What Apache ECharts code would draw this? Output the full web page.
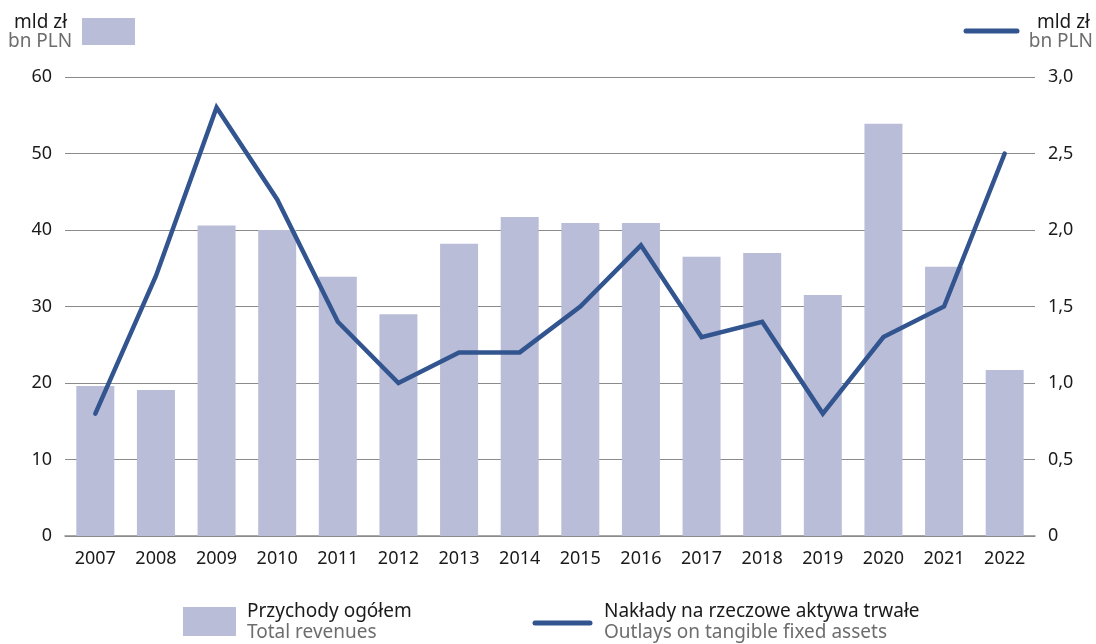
<!DOCTYPE html>
<html>
<head>
<meta charset="utf-8">
<script src="https://cdn.jsdelivr.net/npm/echarts@6/dist/echarts.min.js"></script>
<style>
  html, body { margin: 0; padding: 0; background: #fff; }
  #chart { width: 1096px; height: 644px; }
</style>
</head>
<body>
<div id="chart"></div>
<script>
// Years on the category axis
const years = ['2007','2008','2009','2010','2011','2012','2013','2014','2015','2016','2017','2018','2019','2020','2021','2022'];
// Total revenues, bn PLN (left axis)
const revenues = [19.6, 19.1, 40.6, 40.0, 33.9, 29.0, 38.2, 41.7, 40.9, 40.9, 36.5, 37.0, 31.5, 53.9, 35.2, 21.7];
// Outlays on tangible fixed assets, bn PLN (right axis)
const outlays = [0.8, 1.7, 2.8, 2.2, 1.4, 1.0, 1.2, 1.2, 1.5, 1.9, 1.3, 1.4, 0.8, 1.3, 1.5, 2.5];

const BAR = '#b9bdd8';
const LINE = '#33558f';
const FONT = '"Noto Sans", "Open Sans", sans-serif';
const DARK = '#1a1a1a';
const GREY = '#6d6d6d';

const chart = echarts.init(document.getElementById('chart'), null, { renderer: 'canvas' });

const fmtRight = v => v === 0 ? '0' : v.toFixed(1).replace('.', ',');

function label(x, y, text, color, align) {
  return {
    type: 'text', x: x, y: y,
    style: { text: text, font: '19px ' + FONT, fill: color, align: align || 'left', verticalAlign: 'middle' }
  };
}

chart.setOption({
  animation: false,
  textStyle: { fontFamily: FONT },
  grid: { left: 65, right: 61, top: 77, bottom: 108 },
  xAxis: {
    type: 'category',
    data: years,
    axisLine: { show: true, lineStyle: { color: '#8a8a8a', width: 1.5 } },
    axisTick: { show: false },
    axisLabel: { color: DARK, fontSize: 18, margin: 14, fontFamily: FONT }
  },
  yAxis: [
    {
      type: 'value', min: 0, max: 60, interval: 10,
      axisLine: { show: false }, axisTick: { show: false },
      splitLine: { lineStyle: { color: '#8a8a8a', width: 1.2 } },
      axisLabel: { color: DARK, fontSize: 18, margin: 13, fontFamily: FONT }
    },
    {
      type: 'value', min: 0, max: 3, interval: 0.5,
      axisLine: { show: false }, axisTick: { show: false },
      splitLine: { show: false },
      axisLabel: { color: DARK, fontSize: 18, margin: 13, fontFamily: FONT, formatter: fmtRight }
    }
  ],
  series: [
    {
      name: 'Przychody ogółem',
      type: 'bar',
      data: revenues,
      yAxisIndex: 0,
      barWidth: 38,
      itemStyle: { color: BAR },
      z: 1
    },
    {
      name: 'Nakłady na rzeczowe aktywa trwałe',
      type: 'line',
      data: outlays,
      yAxisIndex: 1,
      symbol: 'none',
      lineStyle: { color: LINE, width: 4.5, cap: 'round', join: 'miter' },
      z: 3
    }
  ],
  graphic: [
    // unit captions
    label(14, 23, 'mld zł', DARK),
    label(8, 42, 'bn PLN', GREY),
    { type: 'rect', shape: { x: 82, y: 18, width: 53, height: 27 }, style: { fill: BAR } },
    { type: 'line', shape: { x1: 966, y1: 31, x2: 1017, y2: 31 }, style: { stroke: LINE, lineWidth: 5, lineCap: 'round' } },
    label(1090, 23, 'mld zł', DARK, 'right'),
    label(1093, 42, 'bn PLN', GREY, 'right'),
    // legend
    { type: 'rect', shape: { x: 183, y: 607, width: 53, height: 29 }, style: { fill: BAR } },
    label(247, 612, 'Przychody ogółem', DARK),
    label(247, 633, 'Total revenues', GREY),
    { type: 'line', shape: { x1: 535, y1: 623, x2: 590, y2: 623 }, style: { stroke: LINE, lineWidth: 5, lineCap: 'round' } },
    label(604, 612, 'Nakłady na rzeczowe aktywa trwałe', DARK),
    label(604, 633, 'Outlays on tangible fixed assets', GREY)
  ]
});
</script>
</body>
</html>
